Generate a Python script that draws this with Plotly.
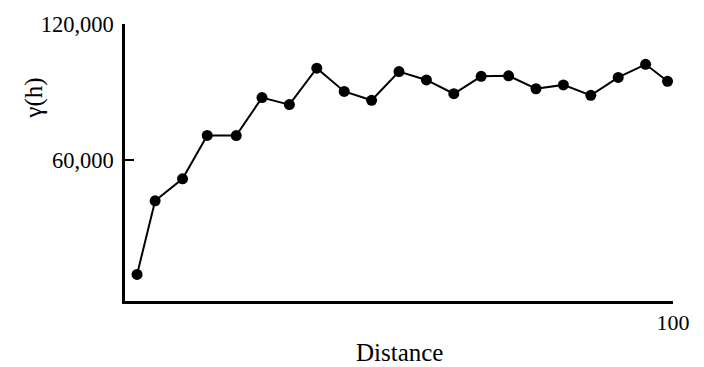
import plotly.graph_objects as go

distance = [2.2, 5.5, 10.5, 15, 20.3, 25, 30, 35, 40, 45, 50, 55, 60, 65, 70, 75, 80, 85, 90, 95, 99]
gamma = [9400, 41900, 51600, 70800, 70700, 87500, 84400, 100500, 90200, 86300, 99000,
         95300, 89200, 96900, 97100, 91400, 93100, 88500, 96400, 102200, 94700]
y_ticks = [60000, 120000]
y_tick_labels = ["60,000", "120,000"]
x_ticks = [100]
x_tick_labels = ["100"]

FONT = "Liberation Serif"

fig = go.Figure(go.Scatter(
    x=distance, y=gamma, mode="lines+markers",
    line=dict(color="black", width=2),
    marker=dict(color="black", size=11),
    showlegend=False,
))

fig.update_layout(
    width=704, height=367,
    margin=dict(l=125, r=31, t=19, b=66),
    paper_bgcolor="white", plot_bgcolor="white",
    font=dict(family=FONT, color="black", size=22),
    xaxis=dict(range=[0, 100], showgrid=False, zeroline=False,
               showline=True, linecolor="black", linewidth=2.5,
               tickmode="array", tickvals=x_ticks, ticktext=x_tick_labels,
               ticks="inside", ticklen=9, tickwidth=1.5, tickcolor="black",
               tickfont=dict(family=FONT, size=22)),
    yaxis=dict(range=[-2350, 120000], showgrid=False, zeroline=False,
               showline=True, linecolor="black", linewidth=2.5,
               tickmode="array", tickvals=y_ticks, ticktext=y_tick_labels,
               ticks="inside", ticklen=9, tickwidth=1.5, tickcolor="black",
               ticklabelstandoff=4,
               tickfont=dict(family=FONT, size=22.5)),
    annotations=[
        dict(text="Distance", xref="paper", yref="paper", x=(399 - 125) / 548, y=(301 - 353) / 282,
             xanchor="center", yanchor="middle", showarrow=False,
             font=dict(family=FONT, size=25)),
        dict(text="γ(h)", xref="paper", yref="paper",
             x=(34 - 125) / 548, y=(301 - 95) / 282,
             xanchor="center", yanchor="middle", textangle=-90, showarrow=False,
             font=dict(family=FONT, size=25)),
    ],
)

fig.write_html("out.html", config={"displayModeBar": False},
               post_script="document.body.style.margin='0';")
